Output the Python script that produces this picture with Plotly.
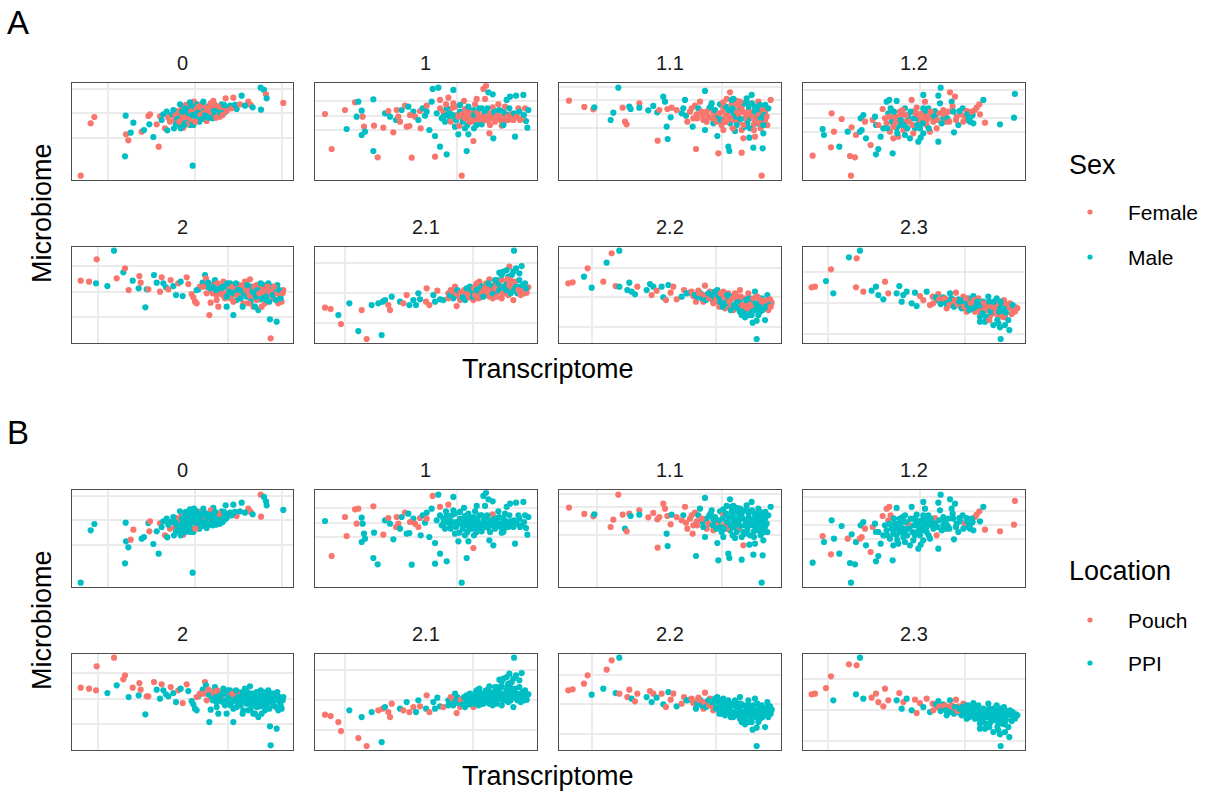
import plotly.graph_objects as go

# category codes
F, M = "Female", "Male"
P, I = "Pouch", "PPI"

PANEL_NAMES = ["0", "1", "1.1", "1.2", "2", "2.1", "2.2", "2.3"]

# (Transcriptome, Microbiome, Sex, Location) per sample, arbitrary units
PANEL_0 = [(62,-302,F,I),(92,-145,F,I),(103,-126,F,I),(197,-122,M,I),(195,-244,M,I),(198,-178,F,I),(205,-196,F,I),(212,-173,M,P),(220,-143,M,P),(245,-170,F,I),(252,-165,M,I),(265,-123,F,I),(270,-118,F,P),(268,-148,M,P),(280,-186,M,I),(290,-148,F,I),(296,-215,F,I),(300,-124,F,P),(305,-135,M,I),(315,-160,F,P),(322,-166,M,I),(320,-110,M,I),(333,-120,M,I),(345,-135,F,P),(350,-108,F,P),(355,-148,M,I),(362,-122,M,I),(365,-100,F,P),(370,-158,F,P),(375,-115,M,I),(382,-140,M,I),(388,-128,F,I),(392,-95,M,I),(398,-272,M,I),(402,-80,F,I),(405,-110,M,I),(412,-88,M,I),(415,-122,F,P),(420,-100,M,I),(428,-110,F,I),(440,-138,F,I),(445,-95,M,I),(455,-105,F,P),(460,-78,F,I),(465,-118,M,I),(470,-95,M,P),(480,-125,F,I),(490,-100,F,I),(497,-70,F,I),(505,-100,M,I),(520,-68,F,I),(530,-102,M,P),(545,-62,M,I),(565,-80,F,P),(572,-90,F,P),(578,-97,M,I),(603,-104,M,P),(602,-38,M,P),(612,-45,M,I),(618,-58,F,I),(620,-70,M,I),(670,-84,F,I),(340,-105,M,I),(348,-148,M,I),(360,-112,F,P),(372,-135,M,I),(378,-90,F,I),(385,-105,M,I),(395,-140,F,I),(400,-150,M,I),(408,-130,M,I),(418,-140,M,I),(425,-88,F,P),(430,-125,M,I),(435,-100,M,I),(448,-118,F,I),(458,-130,M,I),(475,-110,F,I),(485,-88,M,I),(495,-112,M,I),(360,-88,M,I),(330,-140,F,P),(310,-118,M,I),(342,-160,M,I),(452,-85,F,P),(438,-112,F,P),
    (325,-128,F,I),(338,-118,M,I),(346,-122,F,I),(352,-132,M,I),(358,-140,F,I),(366,-110,M,I),(368,-128,F,I),(376,-100,M,I),(380,-125,F,I),(386,-115,M,I),(390,-150,M,I),(394,-108,F,I),(398,-120,M,I),(404,-95,M,I),(406,-140,F,P),(410,-102,F,I),(414,-112,M,I),(422,-120,F,I),(426,-132,M,I),(432,-92,F,I),(436,-120,M,I),(442,-105,F,I),(446,-128,M,I),(450,-98,F,I),(462,-108,M,I),(468,-128,F,I),(472,-102,M,I),(478,-95,F,P),(482,-115,M,I),(488,-120,F,I),(492,-90,M,I),(500,-108,F,I),(510,-92,M,I),(515,-100,F,I),(525,-90,M,I),(540,-88,F,I),(555,-92,M,I),(380,-148,F,I),(372,-150,M,I),(362,-160,M,I),(390,-82,M,I),(415,-95,F,I),(430,-80,M,I),(465,-90,F,I)]

PANEL_1 = [(795,-117,F,I),(815,-222,F,P),(855,-105,F,P),(860,-162,M,P),(885,-82,F,P),(890,-125,M,P),(895,-80,M,P),(905,-107,M,I),(908,-125,F,I),(912,-155,F,I),(905,-180,M,I),(915,-170,M,I),(940,-73,M,P),(942,-152,F,I),(940,-228,M,I),(953,-247,F,I),(970,-158,F,P),(975,-115,M,I),(985,-108,F,P),(1000,-172,F,I),(1008,-135,M,P),(1010,-105,F,P),(1015,-125,F,P),(1025,-105,M,I),(1035,-92,F,P),(1040,-155,F,I),(1048,-153,F,I),(1045,-95,M,I),(1055,-248,F,I),(1060,-110,M,I),(1065,-125,F,P),(1075,-135,M,P),(1080,-108,F,P),(1082,-160,F,I),(1088,-100,M,I),(1095,-122,M,I),(1100,-92,F,I),(1108,-165,M,I),(1115,-80,M,I),(1118,-42,M,P),(1125,-245,F,I),(1125,-183,M,I),(1135,-38,M,I),(1140,-75,F,P),(1140,-215,M,I),(1145,-130,M,I),(1150,-110,F,I),(1155,-140,M,I),(1160,-238,M,I),(1165,-68,F,P),(1170,-128,M,I),(1175,-100,F,I),(1180,-45,M,I),(1185,-155,M,I),(1190,-120,F,I),(1195,-178,M,I),(1198,-152,F,I),(1205,-302,F,I),(1210,-130,M,I),(1212,-78,F,I),(1215,-102,F,I),(1220,-228,M,I),(1222,-150,M,I),(1225,-178,M,I),(1230,-125,F,I),(1235,-140,F,I),(1240,-198,F,P),(1242,-160,M,I),(1245,-88,F,I),(1250,-72,F,I),(1245,-125,F,P),(1260,-135,F,I),(1265,-100,M,I),(1270,-42,F,I),(1275,-72,F,I),(1278,-32,F,I),(1285,-52,M,I),(1288,-175,F,I),(1298,-97,F,P),(1295,-125,F,I),(1298,-58,M,I),(1300,-190,M,I),(1305,-140,F,I),(1310,-108,M,I),(1315,-88,F,I),(1320,-125,F,I),(1325,-152,F,I),(1330,-110,M,I),(1340,-75,M,I),(1345,-135,F,I),(1350,-65,M,I),(1352,-118,F,I),(1360,-135,F,I),(1365,-185,M,I),(1368,-62,M,I),(1375,-100,F,I),(1380,-135,F,I),(1390,-60,M,I),(1395,-100,F,I),(1398,-138,M,I),(1402,-158,M,I),(1405,-105,M,I),(1230,-108,F,I),(1250,-130,F,I),(1270,-118,F,I),(1200,-110,M,I),(1180,-85,F,I),(1160,-100,M,I),(1130,-115,M,I),(1240,-105,M,I),(1265,-148,M,I),(1335,-95,F,I),(1285,-138,F,I),
    (1140,-100,F,I),(1150,-125,M,I),(1158,-88,F,I),(1168,-115,M,I),(1172,-140,F,I),(1178,-120,M,I),(1185,-95,F,I),(1188,-135,M,I),(1195,-125,F,I),(1200,-90,M,I),(1205,-118,F,I),(1208,-140,M,I),(1215,-130,F,I),(1218,-115,F,I),(1225,-95,M,I),(1228,-140,F,I),(1232,-115,F,I),(1238,-132,F,I),(1242,-120,M,I),(1248,-140,F,I),(1252,-112,F,I),(1255,-125,F,I),(1258,-100,M,I),(1262,-130,F,I),(1268,-128,F,I),(1272,-135,F,I),(1275,-110,M,I),(1280,-125,F,I),(1282,-100,M,I),(1288,-130,F,I),(1292,-115,F,I),(1300,-128,F,I),(1302,-112,M,I),(1308,-135,F,I),(1312,-122,F,I),(1318,-105,M,I),(1322,-135,F,I),(1328,-128,F,I),(1332,-140,F,I),(1338,-118,M,I),(1342,-125,F,I),(1348,-100,M,I),(1355,-130,F,I),(1362,-115,M,I),(1370,-125,F,I),(1378,-110,M,I),(1385,-130,F,I),(1392,-120,M,I),(1250,-150,M,I),(1215,-160,M,I),(1290,-150,F,I),(1330,-150,M,I),(1160,-120,M,I),(1100,-110,M,P),(1050,-120,F,P),(1020,-140,F,I),(990,-125,M,I)]

PANEL_1_1 = [(57,-77,F,P),(103,-96,F,P),(130,-103,F,P),(133,-97,M,I),(182,-135,M,P),(190,-113,M,P),(205,-38,M,P),(218,-98,F,P),(225,-140,F,I),(230,-148,F,P),(238,-95,M,P),(242,-102,M,I),(268,-85,F,P),(268,-98,M,I),(295,-106,M,P),(310,-93,M,P),(322,-112,M,P),(328,-105,F,P),(340,-65,M,P),(345,-80,M,P),(350,-155,M,I),(352,-102,F,P),(323,-197,F,P),(353,-192,M,I),(362,-127,M,P),(365,-98,F,I),(400,-100,M,I),(405,-75,M,P),(408,-122,M,P),(412,-140,F,P),(420,-110,F,P),(428,-155,M,P),(435,-92,F,P),(438,-222,F,I),(442,-130,F,P),(445,-100,M,I),(450,-80,F,I),(458,-120,F,I),(465,-48,M,I),(465,-165,M,I),(470,-140,F,P),(478,-100,M,I),(485,-85,M,I),(490,-145,M,P),(495,-122,F,I),(502,-183,M,I),(505,-235,F,I),(510,-88,M,I),(515,-150,F,I),(520,-98,F,P),(525,-128,F,P),(530,-72,F,I),(535,-215,M,I),(538,-228,M,I),(540,-52,F,I),(545,-88,F,I),(550,-115,M,I),(555,-168,M,I),(560,-78,F,I),(565,-140,F,P),(570,-100,M,I),(575,-233,F,I),(575,-165,F,I),(580,-190,F,P),(585,-130,F,I),(590,-82,M,I),(595,-108,F,I),(598,-188,M,I),(605,-60,M,I),(610,-218,M,I),(612,-148,F,I),(615,-95,M,I),(620,-125,M,I),(625,-80,F,I),(630,-110,M,I),(632,-160,F,I),(635,-302,F,I),(638,-220,M,I),(640,-175,M,I),(645,-135,F,I),(648,-100,M,I),(652,-150,F,I),(662,-75,F,I),(540,-145,M,I),(560,-110,F,I),(575,-95,F,I),(600,-130,M,I),(625,-145,M,I),(605,-112,F,I),(550,-72,M,I),(520,-165,F,I),(490,-112,F,I),(430,-130,F,P),(460,-135,F,I),(585,-155,M,I),(615,-185,F,I),(645,-110,F,I),(530,-140,F,P),(505,-125,M,P),
    (470,-110,F,I),(475,-125,F,P),(482,-95,M,I),(488,-130,F,I),(495,-105,M,I),(500,-140,F,I),(508,-115,F,I),(512,-135,M,I),(518,-110,F,I),(522,-140,F,I),(528,-95,M,I),(532,-120,F,I),(536,-105,M,I),(542,-130,F,I),(548,-100,M,I),(552,-135,F,I),(558,-125,M,I),(562,-90,F,I),(566,-118,F,I),(572,-132,M,I),(578,-110,F,I),(582,-85,M,I),(588,-120,F,I),(592,-145,M,I),(596,-95,M,I),(602,-120,F,I),(606,-85,M,I),(610,-130,F,I),(614,-108,M,I),(618,-140,F,I),(622,-100,M,I),(626,-120,F,I),(630,-90,M,I),(634,-130,M,I),(638,-105,F,I),(642,-120,M,I),(646,-90,M,I),(650,-125,F,I),(655,-100,M,I),(630,-145,F,I),(600,-160,M,I),(580,-150,F,I),(560,-150,M,I),(548,-160,F,I),(612,-165,F,I),(640,-150,M,I),(590,-70,M,I),(570,-80,F,I),(545,-75,M,I),(520,-82,F,I),(455,-110,F,P),(440,-118,F,P),(425,-100,F,P),(395,-115,M,P),(380,-105,F,P)]

PANEL_1_2 = [(788,-242,F,I),(818,-162,M,P),(822,-180,M,I),(843,-217,F,P),(845,-115,F,I),(852,-170,F,I),(868,-215,M,I),(875,-132,F,I),(893,-170,M,P),(900,-243,F,I),(905,-157,F,I),(915,-247,F,I),(903,-302,F,I),(918,-180,F,I),(930,-170,M,P),(932,-130,M,I),(935,-165,M,P),(940,-120,M,I),(945,-140,F,P),(948,-190,M,I),(962,-210,F,P),(968,-135,F,P),(975,-125,M,I),(978,-238,M,I),(985,-222,M,I),(992,-185,M,I),(998,-102,F,P),(1010,-80,M,P),(1015,-115,M,P),(1018,-75,M,P),(1020,-170,F,I),(1025,-140,M,I),(1028,-235,M,I),(1035,-125,F,I),(1040,-78,M,I),(1045,-185,F,I),(1050,-150,M,I),(1055,-120,F,I),(1060,-165,F,I),(1065,-100,M,I),(1070,-140,F,I),(1075,-125,M,P),(1080,-190,M,I),(1085,-75,F,I),(1090,-110,F,I),(1095,-160,M,I),(1100,-98,F,I),(1105,-200,M,I),(1108,-140,F,I),(1112,-188,M,I),(1115,-115,F,I),(1120,-60,M,I),(1125,-80,F,I),(1130,-135,F,I),(1135,-100,M,I),(1140,-170,F,I),(1145,-128,F,I),(1148,-118,M,I),(1155,-108,M,P),(1160,-160,F,P),(1165,-200,M,I),(1165,-62,M,I),(1170,-85,M,I),(1172,-38,M,I),(1180,-130,M,I),(1188,-140,F,I),(1195,-110,F,I),(1200,-52,F,I),(1205,-80,M,I),(1208,-95,F,I),(1212,-172,M,I),(1215,-65,F,I),(1220,-125,F,I),(1225,-150,M,I),(1232,-118,F,I),(1238,-100,M,I),(1245,-125,F,P),(1250,-108,F,I),(1255,-135,M,I),(1262,-125,M,I),(1270,-145,M,I),(1275,-105,F,P),(1280,-98,F,P),(1288,-88,F,P),(1290,-118,F,I),(1300,-75,M,I),(1305,-143,F,P),(1350,-148,M,P),(1395,-57,M,P),(1392,-128,M,P),(1268,-120,M,I),(1060,-140,F,I),(1100,-130,M,I),(1130,-150,F,I),(1180,-105,F,I),(1010,-145,F,I),(1040,-160,M,I),(1120,-100,M,I),(1050,-110,F,I),(978,-150,M,I),
    (1005,-130,F,I),(1012,-160,M,I),(1018,-125,F,I),(1022,-100,M,P),(1030,-155,F,I),(1032,-110,M,I),(1038,-140,F,I),(1042,-175,M,I),(1048,-125,F,I),(1052,-135,M,I),(1058,-105,F,I),(1062,-150,M,I),(1068,-120,F,I),(1072,-160,M,I),(1078,-140,F,I),(1082,-110,M,I),(1088,-150,F,I),(1092,-130,M,I),(1098,-115,F,I),(1102,-150,M,I),(1106,-120,F,I),(1110,-160,M,I),(1114,-135,F,I),(1118,-145,M,I),(1122,-120,F,I),(1128,-108,M,I),(1132,-125,F,I),(1136,-160,M,I),(1142,-110,F,I),(1150,-140,F,I),(1155,-125,M,I),(1162,-135,F,I),(1168,-115,F,I),(1175,-145,M,I),(1185,-120,F,I),(1192,-130,M,I),(1198,-140,F,I),(1210,-110,M,I),(1218,-135,F,I),(1228,-108,M,I),(1240,-140,F,I),(1252,-118,M,I),(1265,-110,F,I),(1260,-140,M,I),(1030,-190,F,I),(1065,-180,M,I),(1090,-175,F,I),(1120,-175,M,I),(1000,-160,M,I),(985,-150,F,I)]

PANEL_2 = [(62,-122,F,P),(87,-125,F,P),(108,-130,M,P),(110,-58,F,P),(142,-138,M,I),(162,-32,M,P),(170,-115,F,I),(190,-97,M,P),(195,-85,F,P),(206,-150,F,I),(218,-122,M,P),(236,-145,M,I),(238,-108,F,P),(242,-128,F,P),(256,-202,M,I),(260,-148,M,P),(265,-148,F,P),(282,-105,M,P),(290,-128,M,I),(300,-155,F,I),(305,-112,F,P),(310,-130,M,I),(318,-142,M,I),(325,-148,F,I),(332,-120,F,P),(340,-138,M,I),(348,-165,M,I),(355,-130,F,P),(362,-125,M,I),(368,-168,M,P),(380,-112,F,P),(385,-132,F,I),(395,-162,F,I),(400,-172,F,I),(405,-185,F,I),(410,-190,F,I),(415,-148,M,I),(420,-140,F,P),(428,-128,M,I),(435,-105,M,P),(438,-115,F,I),(442,-140,M,I),(448,-225,F,I),(452,-188,F,I),(455,-150,M,I),(460,-132,F,P),(465,-120,M,I),(470,-165,F,I),(475,-200,F,I),(478,-138,M,I),(485,-150,F,P),(490,-125,F,I),(495,-175,F,I),(500,-200,M,I),(505,-145,F,I),(510,-130,M,I),(515,-165,M,I),(520,-225,M,I),(525,-150,F,P),(530,-180,M,I),(535,-135,F,I),(540,-160,F,I),(545,-145,M,I),(550,-190,F,I),(555,-125,F,I),(560,-170,M,I),(565,-150,F,I),(570,-118,F,I),(575,-140,M,I),(580,-200,F,I),(585,-165,M,I),(590,-135,F,I),(595,-210,M,I),(600,-178,M,I),(605,-155,F,I),(610,-135,M,I),(615,-190,F,I),(620,-150,M,I),(625,-165,F,I),(630,-238,M,I),(632,-295,F,I),(635,-140,M,I),(640,-175,F,I),(645,-155,M,I),(650,-245,M,I),(652,-135,M,I),(655,-190,F,I),(660,-165,F,I),(665,-185,F,I),(670,-150,F,I),(480,-160,F,I),(540,-140,F,P),(500,-135,F,P),(560,-145,F,I),(590,-180,F,I),(610,-165,F,I),(530,-150,M,I),(575,-175,F,I),(600,-145,F,I),(625,-130,M,I),
    (430,-140,F,P),(445,-128,M,P),(450,-145,M,I),(458,-160,F,I),(462,-140,M,P),(468,-150,M,I),(472,-130,F,P),(482,-145,M,I),(488,-165,F,I),(492,-140,M,I),(498,-160,F,I),(502,-130,M,I),(508,-155,M,I),(512,-175,F,I),(518,-140,F,P),(522,-160,M,I),(528,-130,M,I),(532,-165,F,I),(538,-150,M,I),(542,-175,M,I),(548,-135,F,I),(552,-160,M,I),(558,-150,F,I),(562,-135,M,I),(568,-165,F,I),(572,-185,M,I),(578,-155,M,I),(582,-140,F,I),(588,-170,M,I),(592,-150,M,I),(598,-160,F,I),(602,-130,M,I),(608,-175,M,I),(612,-150,F,I),(618,-170,M,I),(622,-140,F,I),(628,-185,M,I),(632,-155,F,I),(638,-165,M,I),(642,-140,F,I),(648,-180,M,I),(652,-160,F,I),(658,-150,M,I),(662,-175,M,I),(668,-160,F,I),(548,-200,M,I),(565,-190,F,I),(585,-200,M,I),(605,-200,F,I),(620,-180,M,I),(520,-185,F,I),(500,-170,M,I),(470,-180,F,I),(440,-160,F,P),(410,-150,M,P)]

PANEL_2_1 = [(795,-203,F,P),(812,-207,F,P),(835,-225,M,P),(843,-252,F,P),(868,-190,M,I),(895,-273,M,P),(905,-210,F,I),(920,-297,F,P),(935,-195,M,I),(955,-190,M,P),(965,-285,M,I),(968,-185,M,P),(975,-180,M,I),(985,-195,F,P),(990,-210,F,P),(995,-170,M,P),(1020,-185,M,I),(1030,-190,F,P),(1040,-165,F,I),(1048,-195,M,P),(1060,-180,M,P),(1068,-195,M,I),(1075,-160,M,I),(1080,-178,M,P),(1100,-145,F,P),(1098,-185,F,I),(1108,-195,F,P),(1120,-165,M,I),(1125,-185,M,I),(1132,-152,F,I),(1140,-178,M,I),(1150,-180,M,P),(1165,-160,F,I),(1172,-150,F,P),(1180,-175,M,I),(1185,-140,F,I),(1190,-198,F,P),(1195,-165,M,P),(1200,-180,F,P),(1210,-155,M,I),(1218,-170,F,I),(1225,-150,M,P),(1232,-165,F,I),(1240,-180,F,P),(1248,-135,F,I),(1252,-160,M,I),(1258,-125,F,I),(1262,-172,F,I),(1268,-140,M,I),(1272,-155,F,I),(1278,-130,F,I),(1282,-165,M,I),(1288,-118,F,I),(1292,-150,M,I),(1298,-175,F,I),(1302,-135,F,I),(1308,-160,M,I),(1312,-120,M,I),(1318,-98,M,I),(1322,-140,F,I),(1325,-175,F,I),(1330,-95,M,I),(1335,-160,F,I),(1340,-130,M,I),(1345,-110,M,I),(1348,-80,F,I),(1352,-145,F,I),(1355,-105,M,I),(1360,-180,F,I),(1362,-32,M,I),(1365,-125,F,I),(1368,-85,M,I),(1372,-160,M,I),(1378,-120,M,I),(1382,-140,M,I),(1385,-78,M,I),(1390,-150,F,I),(1395,-130,M,I),(1400,-158,F,I),(1405,-142,F,I),(1260,-150,F,I),(1290,-138,F,I),(1230,-140,M,I),(1320,-155,F,I),(1350,-120,F,I),(1300,-150,F,I),(1240,-160,M,I),(1175,-160,F,I),(1345,-165,F,I),(1310,-145,M,I),
    (1165,-175,F,I),(1170,-165,M,I),(1178,-155,F,P),(1182,-170,M,I),(1188,-160,F,I),(1192,-150,M,I),(1198,-168,F,I),(1202,-158,F,P),(1208,-172,M,I),(1212,-150,F,I),(1215,-180,M,I),(1222,-160,F,I),(1228,-172,F,I),(1235,-150,M,I),(1238,-170,M,I),(1242,-145,F,I),(1245,-165,F,I),(1250,-150,M,I),(1255,-175,F,I),(1260,-138,M,I),(1265,-160,F,I),(1270,-170,M,I),(1275,-145,F,I),(1280,-155,F,I),(1285,-130,M,I),(1288,-170,F,I),(1295,-140,M,I),(1298,-160,M,I),(1305,-145,F,I),(1310,-170,F,I),(1315,-130,M,I),(1318,-150,M,I),(1325,-120,F,I),(1328,-160,F,I),(1332,-140,M,I),(1338,-150,M,I),(1342,-118,F,I),(1348,-135,F,I),(1352,-160,M,I),(1358,-130,F,I),(1362,-150,M,I),(1368,-140,M,I),(1375,-150,F,I),(1378,-100,M,I),(1382,-165,F,I),(1388,-135,M,I),(1392,-160,F,I),(1398,-145,M,I),(1360,-95,M,I),(1340,-90,M,I),(1325,-105,M,I),(1305,-120,M,I),(1285,-150,F,I),(1250,-130,F,I),(1220,-145,M,I)]

PANEL_2_2 = [(55,-130,F,P),(68,-127,F,P),(102,-110,M,P),(113,-85,F,P),(125,-143,M,I),(160,-125,F,I),(170,-68,M,P),(185,-40,F,P),(197,-138,F,I),(208,-32,M,I),(208,-140,M,P),(232,-150,M,P),(238,-128,M,P),(245,-155,M,I),(255,-163,M,P),(262,-140,F,P),(290,-150,M,I),(300,-132,M,P),(305,-165,F,I),(310,-140,M,P),(320,-152,F,I),(335,-140,M,P),(340,-172,M,I),(348,-180,F,P),(355,-135,M,I),(362,-158,F,P),(370,-140,F,P),(380,-178,F,I),(395,-170,M,P),(402,-150,F,P),(410,-160,M,I),(420,-158,M,I),(430,-168,F,P),(438,-185,F,I),(445,-152,F,P),(452,-160,M,I),(460,-185,F,P),(465,-137,F,P),(470,-165,M,I),(480,-155,F,P),(488,-180,M,P),(495,-165,F,I),(502,-150,M,I),(508,-200,F,I),(515,-170,M,I),(520,-155,F,I),(525,-205,F,I),(530,-180,M,I),(535,-160,F,I),(540,-195,F,I),(545,-170,M,I),(550,-210,F,I),(555,-160,F,I),(560,-180,M,I),(565,-200,F,I),(570,-150,F,I),(575,-225,M,I),(580,-175,F,I),(585,-232,M,I),(590,-190,F,I),(595,-160,F,I),(600,-210,M,I),(605,-180,F,I),(608,-248,M,I),(612,-200,F,I),(615,-155,M,I),(620,-242,M,I),(620,-297,M,I),(625,-190,F,I),(630,-215,M,I),(635,-175,M,I),(640,-198,F,I),(645,-240,M,I),(648,-185,F,I),(652,-165,M,I),(655,-210,F,I),(660,-178,F,I),(665,-188,F,I),(500,-175,F,I),(560,-170,F,I),(590,-175,F,I),(610,-190,M,I),(540,-180,M,I),(580,-200,F,I),(630,-185,F,I),(520,-190,F,I),
    (425,-155,F,P),(435,-165,M,P),(442,-170,M,I),(448,-160,F,P),(455,-175,M,I),(462,-165,F,P),(468,-180,M,I),(475,-160,M,I),(478,-175,F,P),(485,-165,M,I),(490,-190,F,P),(495,-155,M,I),(498,-185,F,I),(505,-168,M,I),(510,-185,M,I),(512,-160,F,I),(518,-200,M,I),(522,-170,F,I),(528,-190,M,I),(532,-165,M,I),(538,-185,F,I),(542,-210,M,I),(548,-175,F,I),(552,-195,M,I),(558,-165,F,I),(562,-205,M,I),(568,-185,M,I),(572,-170,F,I),(578,-195,F,I),(582,-215,M,I),(588,-180,M,I),(592,-205,F,I),(598,-175,M,I),(602,-195,F,I),(605,-225,M,I),(610,-175,F,I),(615,-210,M,I),(618,-190,M,I),(622,-170,F,I),(628,-200,M,I),(632,-180,F,I),(638,-210,M,I),(642,-185,F,I),(648,-200,M,I),(652,-180,F,I),(658,-195,M,I),(662,-200,F,I),(595,-225,M,I),(570,-215,M,I),(625,-225,M,I)]

PANEL_2_3 = [(785,-142,F,P),(795,-140,F,P),(828,-123,M,P),(843,-88,F,P),(850,-160,M,I),(897,-52,M,P),(920,-55,F,P),(930,-32,M,I),(918,-142,F,I),(940,-155,F,I),(965,-152,M,P),(978,-140,M,P),(985,-165,M,P),(1000,-178,M,P),(1005,-125,F,P),(1015,-160,F,P),(1040,-160,M,I),(1048,-138,M,P),(1055,-185,M,I),(1060,-165,M,P),(1070,-155,M,I),(1085,-190,M,I),(1095,-158,M,P),(1100,-198,M,P),(1110,-168,F,P),(1120,-180,F,I),(1130,-155,M,P),(1140,-195,F,I),(1148,-170,F,P),(1160,-180,M,P),(1165,-162,F,I),(1175,-185,F,P),(1180,-172,M,I),(1190,-205,F,I),(1195,-180,M,P),(1200,-160,M,I),(1210,-190,F,P),(1218,-158,F,P),(1225,-178,M,P),(1230,-198,F,I),(1240,-170,F,P),(1245,-188,M,I),(1250,-215,F,I),(1255,-175,M,I),(1260,-200,M,I),(1265,-185,F,I),(1270,-168,M,I),(1275,-215,F,I),(1280,-195,M,I),(1285,-175,F,I),(1290,-230,M,I),(1295,-205,F,I),(1300,-185,M,I),(1305,-245,M,I),(1310,-210,F,I),(1315,-170,M,I),(1320,-228,F,I),(1325,-192,M,I),(1330,-255,M,I),(1335,-205,F,I),(1340,-175,M,I),(1345,-230,F,I),(1350,-262,M,I),(1352,-297,M,I),(1355,-195,F,I),(1360,-215,M,I),(1362,-180,F,I),(1365,-232,F,I),(1370,-200,F,I),(1378,-270,M,I),(1380,-190,F,I),(1385,-222,F,I),(1390,-208,F,I),(1398,-202,F,I),(1310,-190,F,I),(1280,-210,F,I),(1330,-220,F,I),(1350,-200,M,I),(1300,-200,F,I),(1340,-190,F,I),(1260,-185,M,I),(1320,-205,M,I),
    (1150,-190,F,P),(1158,-172,M,I),(1168,-178,F,P),(1172,-192,M,I),(1185,-175,F,P),(1188,-190,M,I),(1198,-195,F,I),(1205,-175,M,P),(1212,-200,M,I),(1215,-180,F,I),(1222,-192,F,P),(1228,-185,M,I),(1235,-205,M,I),(1238,-180,M,I),(1242,-200,F,I),(1248,-175,F,I),(1252,-195,M,I),(1258,-210,M,I),(1262,-190,F,I),(1268,-205,M,I),(1272,-180,F,I),(1278,-200,M,I),(1282,-185,M,I),(1288,-215,F,I),(1292,-195,M,I),(1298,-220,M,I),(1302,-190,F,I),(1308,-230,M,I),(1312,-200,F,I),(1318,-185,M,I),(1322,-215,M,I),(1328,-200,F,I),(1332,-185,M,I),(1338,-215,F,I),(1342,-240,M,I),(1348,-215,M,I),(1352,-185,M,I),(1358,-230,F,I),(1362,-205,M,I),(1368,-218,M,I),(1372,-192,F,I),(1375,-240,M,I),(1382,-205,F,I),(1388,-195,M,I),(1395,-215,F,I),(1402,-205,F,I),(1365,-255,M,I),(1345,-250,M,I),(1318,-240,F,I),(1290,-245,M,I)]

PANELS = [PANEL_0, PANEL_1, PANEL_1_1, PANEL_1_2, PANEL_2, PANEL_2_1, PANEL_2_2, PANEL_2_3]

# axis breaks (grid lines) per panel
GRID_X = [[145, 405, 665], [1190], [140, 515], [1110], [115, 505], [855, 1240], [127, 497], [835, 1245]]
GRID_Y = [[-42, -115, -188], [-78, -122, -165], [-35, -75, -117, -158], [-45, -88, -130, -172],
          [-78, -155, -232], [-70, -160, -250], [-85, -172, -260], [-97, -190, -283]]
X_RANGE = [(35, 700), (765, 1430), (28, 693), (760, 1425)]
Y_RANGE = [(-315, -25), (-308, -20)]

# ---------------- layout geometry (pixels) ----------------
W, H = 1206, 793
COL_PX = [(71.7, 293.3), (315.0, 536.7), (559.3, 781.0), (803.3, 1025.0)]
ROW_PX = [(83.3, 180.0), (246.7, 342.7), (490.3, 587.0), (653.7, 749.7)]
COLOR = {F: "#F8766D", M: "#00BFC4", P: "#F8766D", I: "#00BFC4"}
FONT = "Liberation Sans, Arial, sans-serif"

fig = go.Figure()
layout = dict(width=W, height=H, margin=dict(l=0, r=0, t=0, b=0),
              paper_bgcolor="white", plot_bgcolor="white", showlegend=False)
annotations = []
shapes = []

def px_x(v):
    return v / W

def px_y(v):
    return 1 - v / H

for block in range(2):  # 0 = Sex, 1 = Location
    for i, pts in enumerate(PANELS):
        r, c = divmod(i, 4)
        k = block * 8 + i + 1
        xs = [p[0] for p in pts]
        ys = [p[1] for p in pts]
        grp = [p[2 + block] for p in pts]
        fig.add_trace(go.Scatter(
            x=xs, y=ys, mode="markers",
            marker=dict(size=6.2, color=[COLOR[g] for g in grp], line=dict(width=0)),
            xaxis=f"x{k}", yaxis=f"y{k}", hoverinfo="skip"))
        x0, x1 = COL_PX[c]
        y0, y1 = ROW_PX[block * 2 + r]
        common = dict(showticklabels=False, ticks="", zeroline=False, showgrid=True,
                      gridcolor="#EBEBEB", gridwidth=1.5, showline=True, mirror=True,
                      linecolor="#4D4D4D", linewidth=1, fixedrange=True)
        layout[f"xaxis{k}"] = dict(domain=[px_x(x0), px_x(x1)], range=list(X_RANGE[c]),
                                   tickvals=GRID_X[i], anchor=f"y{k}", **common)
        layout[f"yaxis{k}"] = dict(domain=[px_y(y1), px_y(y0)], range=list(Y_RANGE[r]),
                                   tickvals=GRID_Y[i], anchor=f"x{k}", **common)
        annotations.append(dict(text=PANEL_NAMES[i], x=px_x((x0 + x1) / 2), y=px_y(y0 - 20),
                                xref="paper", yref="paper", showarrow=False,
                                xanchor="center", yanchor="middle",
                                font=dict(size=20, color="#1A1A1A", family=FONT)))

# panel tags, axis titles
for tag, ty, my, ty2 in [("A", 22, 213, 369), ("B", 432, 620, 776)]:
    annotations.append(dict(text=tag, x=px_x(18), y=px_y(ty), xref="paper", yref="paper",
                            showarrow=False, xanchor="center", yanchor="middle",
                            font=dict(size=33, color="black", family=FONT)))
    annotations.append(dict(text="Microbiome", x=px_x(42), y=px_y(my), xref="paper", yref="paper",
                            showarrow=False, xanchor="center", yanchor="middle", textangle=-90,
                            font=dict(size=27, color="black", family=FONT)))
    annotations.append(dict(text="Transcriptome", x=px_x(548), y=px_y(ty2), xref="paper", yref="paper",
                            showarrow=False, xanchor="center", yanchor="middle",
                            font=dict(size=27, color="black", family=FONT)))

# legends
LEGENDS = [("Sex", 165, [(F, 212), (M, 257)]), ("Location", 571, [(P, 620), (I, 663)])]
for title, ty, items in LEGENDS:
    annotations.append(dict(text=title, x=px_x(1067), y=px_y(ty), xref="paper", yref="paper",
                            showarrow=False, xanchor="left", yanchor="middle",
                            font=dict(size=27, color="black", family=FONT)))
    for lab, iy in items:
        annotations.append(dict(text=lab, x=px_x(1126), y=px_y(iy), xref="paper", yref="paper",
                                showarrow=False, xanchor="left", yanchor="middle",
                                font=dict(size=21, color="black", family=FONT)))
        rr = 2.6
        shapes.append(dict(type="circle", xref="paper", yref="paper",
                           x0=px_x(1090 - rr), x1=px_x(1090 + rr),
                           y0=px_y(iy + rr), y1=px_y(iy - rr),
                           fillcolor=COLOR[lab], line=dict(width=0)))

layout["annotations"] = annotations
layout["shapes"] = shapes
fig.update_layout(**layout)
fig.write_html("out.html")
